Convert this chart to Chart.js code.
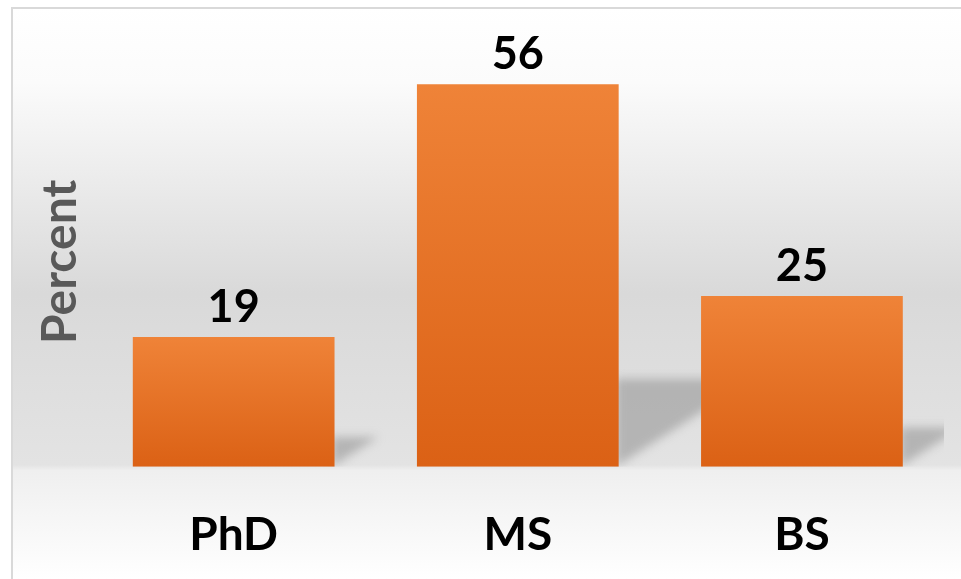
<!DOCTYPE html>
<html>
<head>
<meta charset="utf-8">
<script src="https://cdn.jsdelivr.net/npm/chart.js@4.4.0/dist/chart.umd.min.js"></script>
<style>
    html, body { margin: 0; padding: 0; background: #fff; }
    #wrap { width: 961px; height: 579px; position: relative; }
</style>
</head>
<body>
<div id="wrap"><canvas id="barChart"></canvas></div>
<script>
const degrees = ["PhD", "MS", "BS"];
const percents = [19, 56, 25];
const axisTitle = "Percent";

// panel background: soft grey band with a thin border (runs off the right/bottom edge)
const panelBackground = {
    id: "panelBackground",
    beforeDraw(chart) {
        const c = chart.ctx;
        const h = chart.height;
        c.save();
        c.fillStyle = "#ffffff";
        c.fillRect(0, 0, chart.width, h);
        const g = c.createLinearGradient(0, 8, 0, h);
        g.addColorStop(0, "#ffffff");
        g.addColorStop(0.13, "#fbfbfb");
        g.addColorStop(0.5, "#d9d9d9");
        g.addColorStop(0.8, "#e3e3e3");
        g.addColorStop(0.81, "#efefef");
        g.addColorStop(1, "#ffffff");
        c.fillStyle = g;
        c.fillRect(12, 8, chart.width, h);
        c.strokeStyle = "#d9d9d9";
        c.lineWidth = 2;
        c.strokeRect(12, 8, chart.width + 10, h + 10);
        c.restore();
    },
};

// perspective shadow to the right of each bar
const barShadows = {
    id: "barShadows",
    beforeDatasetsDraw(chart) {
        const c = chart.ctx;
        const area = chart.chartArea;
        const meta = chart.getDatasetMeta(0);
        c.save();
        c.beginPath();
        c.rect(area.left, area.top - 100, area.right - area.left, area.bottom - area.top + 100);
        c.clip();
        c.filter = "blur(5px)";
        c.fillStyle = "rgba(150,150,150,0.6)";
        meta.data.forEach((bar) => {
            const right = bar.x + bar.width / 2 - 3;
            const hgt = bar.base - bar.y;
            const dx = hgt * 0.36;
            const dy = hgt * 0.23;
            c.beginPath();
            c.moveTo(right, bar.base);
            c.lineTo(right, bar.base - dy);
            c.lineTo(right + dx, bar.base - dy);
            c.closePath();
            c.fill();
        });
        c.restore();
    },
};

// numbers above the bars
const valueLabels = {
    id: "valueLabels",
    afterDatasetsDraw(chart) {
        const c = chart.ctx;
        const meta = chart.getDatasetMeta(0);
        c.save();
        c.font = "bold 45px Lato";
        c.fillStyle = "#000";
        c.textAlign = "center";
        c.textBaseline = "alphabetic";
        meta.data.forEach((bar, i) => {
            c.fillText(String(percents[i]), bar.x, bar.y - 15);
        });
        c.restore();
    },
};

function barFill(ctx) {
    const chart = ctx.chart;
    if (!chart.chartArea) return "#e8742a";
    const y = chart.scales.y;
    const top = y.getPixelForValue(ctx.raw);
    const base = y.getPixelForValue(0);
    const g = chart.ctx.createLinearGradient(0, top, 0, base);
    g.addColorStop(0, "#ef8338");
    g.addColorStop(1, "#db6115");
    return g;
}

const ctx = document.getElementById("barChart").getContext("2d");
const barChart = new Chart(ctx, {
    type: "bar",
    data: {
        labels: degrees,
        datasets: [
            {
                data: percents,
                backgroundColor: barFill,
                borderWidth: 0,
                barPercentage: 0.71,
                categoryPercentage: 1.0,
            },
        ],
    },
    options: {
        responsive: true,
        maintainAspectRatio: false,
        animation: false,
        devicePixelRatio: 1,
        layout: {
            padding: { top: 57, left: 29, right: 17, bottom: -25 },
        },
        plugins: {
            legend: { display: false },
            tooltip: { enabled: false },
        },
        scales: {
            x: {
                grid: { display: false, drawTicks: false },
                border: { display: false },
                ticks: {
                    color: "#000",
                    padding: 41,
                    font: { family: "Lato", size: 46, weight: "bold" },
                },
            },
            y: {
                min: 0,
                max: 60,
                grid: { display: false, drawTicks: false },
                border: { display: false },
                ticks: { display: false },
                title: {
                    display: true,
                    text: axisTitle,
                    color: "#595959",
                    padding: { top: 3, bottom: 2 },
                    font: { family: "Lato", size: 48, weight: "bold" },
                },
            },
        },
    },
    plugins: [panelBackground, barShadows, valueLabels],
});
</script>
</body>
</html>
